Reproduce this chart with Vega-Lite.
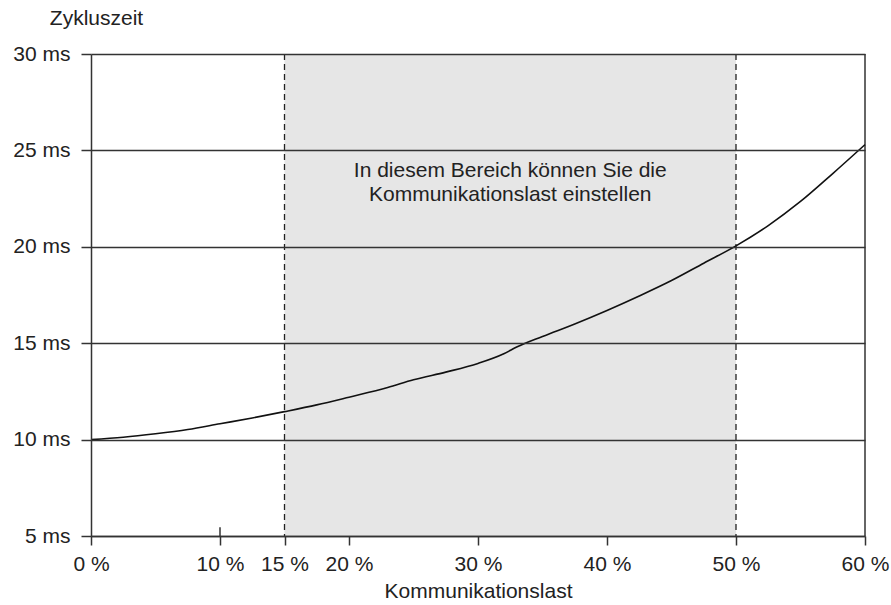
{
  "$schema": "https://vega.github.io/schema/vega-lite/v6.json",
  "width": 774,
  "height": 482,
  "autosize": "none",
  "padding": {"left": 91, "top": 54, "right": 26, "bottom": 69},
  "background": "white",
  "config": {
    "view": {"stroke": null},
    "font": "Liberation Sans",
    "axis": {"labelFont": "Liberation Sans", "titleFont": "Liberation Sans", "labelColor": "#222", "titleColor": "#222", "titleFontWeight": "normal"}
  },
  "datasets": {
    "curve": [
      {"last": 0, "zeit": 10.0},
      {"last": 2.5, "zeit": 10.12},
      {"last": 5, "zeit": 10.3},
      {"last": 7.5, "zeit": 10.52},
      {"last": 10, "zeit": 10.82},
      {"last": 12.5, "zeit": 11.12},
      {"last": 15, "zeit": 11.45},
      {"last": 17.5, "zeit": 11.8},
      {"last": 20, "zeit": 12.2},
      {"last": 23, "zeit": 12.7},
      {"last": 25, "zeit": 13.1},
      {"last": 27.5, "zeit": 13.5},
      {"last": 30, "zeit": 13.95},
      {"last": 32, "zeit": 14.45},
      {"last": 33, "zeit": 14.8},
      {"last": 35, "zeit": 15.35},
      {"last": 37.5, "zeit": 16.0},
      {"last": 40, "zeit": 16.7},
      {"last": 42.5, "zeit": 17.45},
      {"last": 45, "zeit": 18.25},
      {"last": 47.5, "zeit": 19.15},
      {"last": 50, "zeit": 20.05},
      {"last": 52.5, "zeit": 21.1},
      {"last": 55, "zeit": 22.35},
      {"last": 57.5, "zeit": 23.8},
      {"last": 60, "zeit": 25.3}
    ],
    "band": [{"von": 15, "bis": 50, "unten": 5, "oben": 30}],
    "grenzen": [{"last": 15}, {"last": 50}],
    "rahmen": [{"last": 60, "unten": 5, "oben": 30}],
    "ticks": [{"last": 10, "unten": 5, "oben": 5.45}],
    "notiz": [{"last": 32.5, "zeit": 23.95, "text": "In diesem Bereich können Sie die"}, {"last": 32.5, "zeit": 22.7, "text": "Kommunikationslast einstellen"}]
  },
  "layer": [
    {
      "data": {"name": "band"},
      "mark": {"type": "rect", "color": "#e6e6e6"},
      "encoding": {
        "x": {"field": "von", "type": "quantitative", "scale": {"domain": [0, 60], "nice": false},
          "axis": {"values": [0, 10, 15, 20, 30, 40, 50, 60], "labelExpr": "datum.value + ' %'", "title": "Kommunikationslast", "grid": false, "labelFlush": false, "labelOverlap": false, "labelBound": false, "domainColor": "#333", "domainWidth": 1.5, "tickColor": "#333", "tickWidth": 1.5, "tickSize": 9, "labelFontSize": 21, "labelPadding": 8, "titleFontSize": 21, "titlePadding": 6, "zindex": 1}},
        "x2": {"field": "bis"},
        "y": {"field": "unten", "type": "quantitative", "scale": {"domain": [5, 30], "nice": false},
          "axis": {"values": [5, 10, 15, 20, 25, 30], "labelExpr": "datum.value + ' ms'", "title": "Zykluszeit", "titleAngle": 0, "titleAlign": "center", "titleBaseline": "middle", "titleX": 5, "titleY": -36, "titleFontSize": 21, "grid": true, "gridColor": "#333", "gridWidth": 1.5, "gridOpacity": 1, "domainColor": "#333", "domainWidth": 1.5, "tickColor": "#333", "tickWidth": 1.5, "tickSize": 10, "labelFontSize": 21, "labelPadding": 11, "labelFlush": false, "labelOverlap": false, "zindex": 1}},
        "y2": {"field": "oben"}
      }
    },
    {
      "data": {"name": "grenzen"},
      "mark": {"type": "rule", "color": "#222", "strokeWidth": 1.3, "strokeDash": [6, 4]},
      "encoding": {"x": {"field": "last", "type": "quantitative"}}
    },
    {
      "data": {"name": "rahmen"},
      "mark": {"type": "rule", "color": "#333", "strokeWidth": 1.5},
      "encoding": {"x": {"field": "last", "type": "quantitative"}, "y": {"field": "unten", "type": "quantitative"}, "y2": {"field": "oben"}}
    },
    {
      "data": {"name": "ticks"},
      "mark": {"type": "rule", "color": "#333", "strokeWidth": 1.5},
      "encoding": {"x": {"field": "last", "type": "quantitative"}, "y": {"field": "unten", "type": "quantitative"}, "y2": {"field": "oben"}}
    },
    {
      "data": {"name": "curve"},
      "mark": {"type": "line", "color": "#111", "strokeWidth": 1.6, "interpolate": "monotone"},
      "encoding": {"x": {"field": "last", "type": "quantitative"}, "y": {"field": "zeit", "type": "quantitative"}}
    },
    {
      "data": {"name": "notiz"},
      "mark": {"type": "text", "fontSize": 21, "color": "#222", "align": "center", "baseline": "middle"},
      "encoding": {"x": {"field": "last", "type": "quantitative"}, "y": {"field": "zeit", "type": "quantitative"}, "text": {"field": "text"}}
    }
  ]
}
